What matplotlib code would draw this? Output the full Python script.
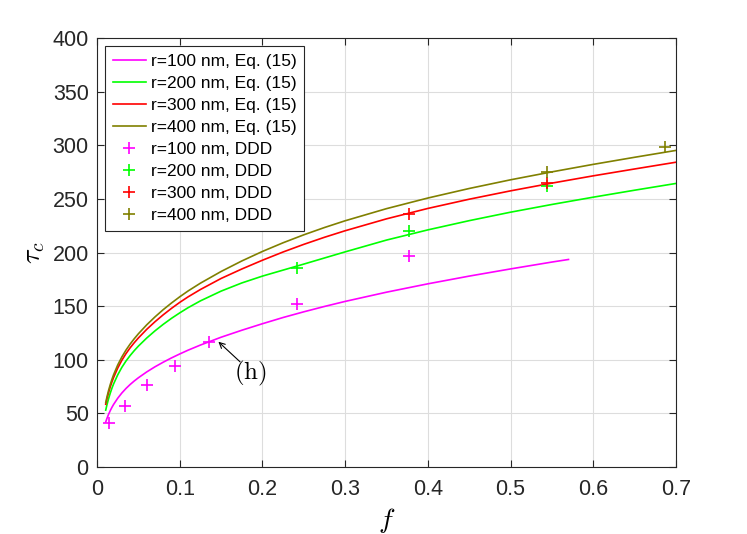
import matplotlib
matplotlib.use('Agg')
import matplotlib.pyplot as plt

plt.rcParams['font.family'] = ['Liberation Sans', 'DejaVu Sans']
plt.rcParams['mathtext.fontset'] = 'cm'

# curves (Eq. 15)
f_eq = [0.0105, 0.012, 0.014, 0.016, 0.018, 0.02, 0.025, 0.03, 0.035, 0.04, 0.045, 0.05,
        0.06, 0.07, 0.08, 0.09, 0.1, 0.11, 0.125, 0.15, 0.175, 0.2, 0.225, 0.25, 0.275,
        0.3, 0.35, 0.4, 0.45, 0.5, 0.55, 0.6, 0.65, 0.7]
tau_r400 = [60.0, 65.3, 71.5, 76.9, 81.7, 86.0, 95.1, 102.6, 109.0, 114.6, 119.6, 124.2,
            132.5, 139.9, 146.7, 152.9, 158.7, 164.1, 171.4, 182.3, 192.1, 201.0, 209.1, 216.5, 223.3,
            229.6, 240.9, 250.8, 259.7, 267.8, 275.2, 282.2, 288.8, 295.2]
tau_r300 = [58.5, 63.6, 69.5, 74.7, 79.3, 83.4, 92.2, 99.5, 105.7, 111.1, 115.9, 120.3,
            128.3, 135.4, 141.9, 147.9, 153.5, 158.6, 165.5, 175.8, 184.6, 192.8, 200.5, 207.6, 214.2,
            220.3, 231.4, 241.1, 249.7, 257.5, 264.7, 271.5, 277.9, 284.2]
tau_r200 = [53.0, 58.0, 63.8, 68.9, 73.4, 77.4, 85.9, 92.9, 98.8, 103.9, 108.5, 112.7,
            120.2, 126.9, 133.0, 138.6, 143.7, 148.5, 154.9, 164.0, 171.6, 178.0, 183.6, 189.2, 194.9,
            200.6, 211.6, 221.1, 229.7, 237.6, 244.8, 251.6, 258.1, 264.4]
f_eq_r100 = [0.0105, 0.012, 0.014, 0.016, 0.018, 0.02, 0.025, 0.03, 0.035, 0.04, 0.045, 0.05,
             0.06, 0.07, 0.08, 0.09, 0.1, 0.11, 0.125, 0.15, 0.175, 0.2, 0.225, 0.25, 0.275,
             0.3, 0.35, 0.4, 0.45, 0.5, 0.55, 0.57]
tau_r100 = [42.0, 45.3, 49.2, 52.6, 55.6, 58.3, 64.1, 69.0, 73.2, 76.9, 80.2, 83.2,
            88.6, 93.4, 97.7, 101.7, 105.4, 108.9, 113.7, 121.0, 127.5, 133.6, 139.4, 144.7, 149.7,
            154.4, 163.0, 170.8, 178.0, 184.7, 191.1, 193.5]

# DDD points
f_ddd_r100 = [0.015, 0.034, 0.061, 0.094, 0.1355, 0.2415, 0.377]
tau_ddd_r100 = [41, 57, 76.5, 94, 117, 152, 197]
f_ddd_r200 = [0.2415, 0.377, 0.544]
tau_ddd_r200 = [186, 220, 262]
f_ddd_r300 = [0.377, 0.544]
tau_ddd_r300 = [236, 265]
f_ddd_r400 = [0.544, 0.687]
tau_ddd_r400 = [275, 298]

c_mag = '#FF00FF'
c_grn = '#00FF00'
c_red = '#FF0000'
c_olv = '#808000'

fig = plt.figure(figsize=(7.47, 5.34), dpi=100)
ax = fig.add_axes([0.1299, 0.1255, 0.7751, 0.8033])

lw = 1.2
ax.plot(f_eq_r100, tau_r100, color=c_mag, lw=lw, label='r=100 nm, Eq. (15)')
ax.plot(f_eq, tau_r200, color=c_grn, lw=lw, label='r=200 nm, Eq. (15)')
ax.plot(f_eq, tau_r300, color=c_red, lw=lw, label='r=300 nm, Eq. (15)')
ax.plot(f_eq, tau_r400, color=c_olv, lw=lw, label='r=400 nm, Eq. (15)')
ms = 9
ax.plot(f_ddd_r100, tau_ddd_r100, '+', color=c_mag, ms=ms, mew=1.2, label='r=100 nm, DDD')
ax.plot(f_ddd_r200, tau_ddd_r200, '+', color=c_grn, ms=ms, mew=1.2, label='r=200 nm, DDD')
ax.plot(f_ddd_r300, tau_ddd_r300, '+', color=c_red, ms=ms, mew=1.2, label='r=300 nm, DDD')
ax.plot(f_ddd_r400, tau_ddd_r400, '+', color=c_olv, ms=ms, mew=1.2, label='r=400 nm, DDD')

# (h) label with arrow
ax.annotate('', xy=(0.1467, 116.8), xytext=(0.173, 98),
            arrowprops=dict(arrowstyle='->', color='k', lw=0.8, shrinkA=0, shrinkB=0,
                            mutation_scale=10))
ax.text(0.185, 87, r'$\mathrm{(h)}$', fontsize=18, ha='center', va='center')

ax.set_xlim(0, 0.7)
ax.set_ylim(0, 400)
ax.set_xticks([0, 0.1, 0.2, 0.3, 0.4, 0.5, 0.6, 0.7])
ax.set_xticklabels(['0', '0.1', '0.2', '0.3', '0.4', '0.5', '0.6', '0.7'])
ax.set_yticks(range(0, 401, 50))
ax.grid(True, color='#dddddd', lw=0.8)
ax.set_axisbelow(True)
for s in ax.spines.values():
    s.set_color('#262626')
    s.set_linewidth(0.8)
ax.tick_params(direction='in', top=True, right=True, length=5, width=0.8,
               colors='#262626', labelsize=15.5)
ax.tick_params(axis='x', pad=9)
ax.tick_params(axis='y', pad=6)

ax.set_xlabel(r'$f$', fontsize=20, labelpad=4)
ax.set_ylabel(r'$\tau_c$', fontsize=20, labelpad=4)

leg = ax.legend(loc='upper left', fontsize=12.5, fancybox=False, framealpha=1,
                edgecolor='#262626', labelspacing=0.4, handlelength=1.9,
                handletextpad=0.3, borderpad=0.45, borderaxespad=0.45)
leg.get_frame().set_linewidth(0.8)

fig.savefig('out.png', dpi=100)
